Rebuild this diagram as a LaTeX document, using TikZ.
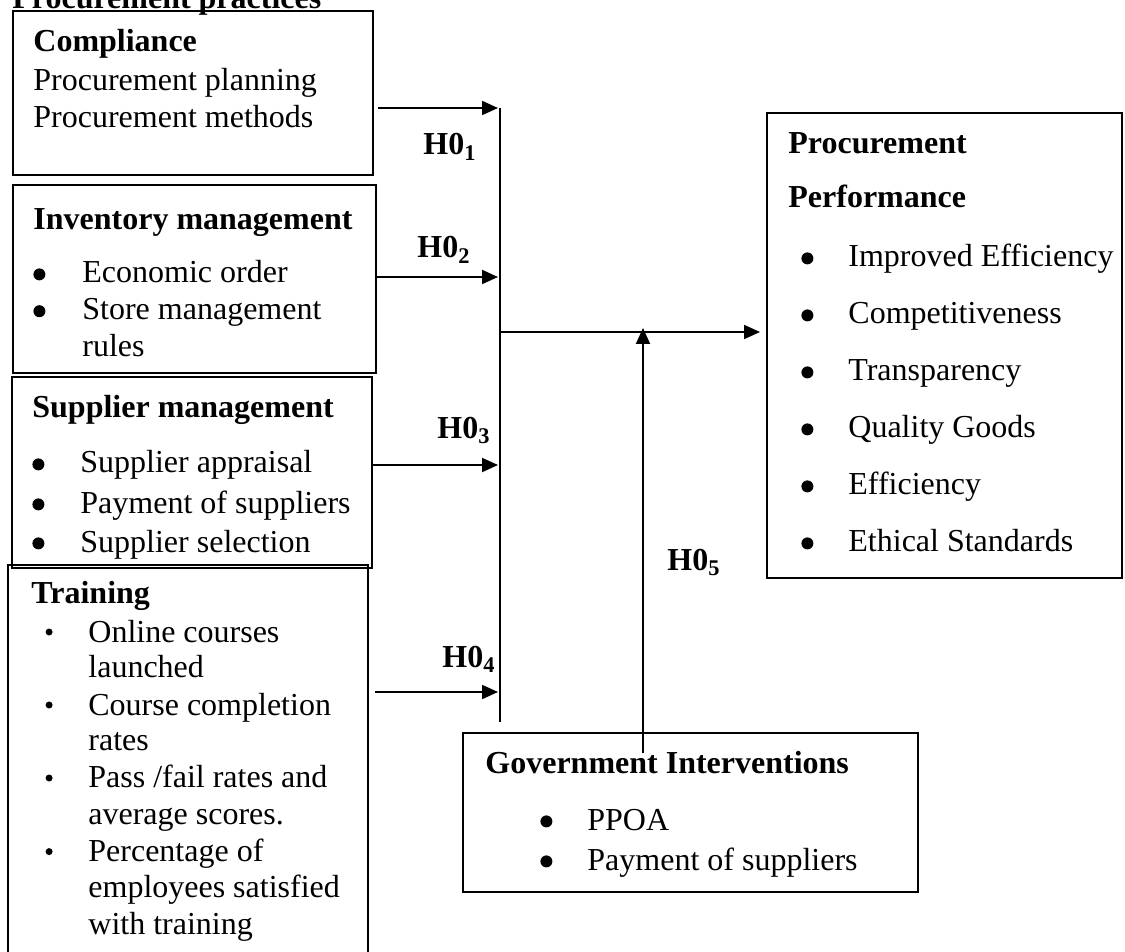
\documentclass[tikz,border=0pt]{standalone}
\usepackage{fontspec}
\setmainfont{Liberation Serif}
\usetikzlibrary{arrows.meta}

\newcommand{\bul}{\tikz[baseline=-4.3pt]\fill (0,0) circle (3pt);}
\newcommand{\smallbul}{\tikz[baseline=-5pt]\fill (0,0) circle (1.75pt);}

\begin{document}
\begin{tikzpicture}[x=0.5pt, y=-0.5pt,
    box/.style={draw, line width=1pt, inner sep=0pt, outer sep=0pt, anchor=north west},
    txt/.style={anchor=base west, inner sep=0pt, font=\fontsize{16}{18.4}\selectfont},
    hyp/.style={anchor=base west, inner sep=0pt, font=\fontsize{16}{18.4}\selectfont\bfseries},
    arr/.style={line width=1pt, -{Triangle[length=8pt,width=7pt]}}]
  \useasboundingbox (0,0) rectangle (1125,952);

  % Title
  \node[hyp] (title) at (12,9) {Procurement practices};

  % Boxes
  \node[box, minimum width=180pt, minimum height=82pt] (comp) at (13,11) {};
  \node[box, minimum width=181.5pt, minimum height=94pt] (inv) at (13,185) {};
  \node[box, minimum width=180pt, minimum height=95.5pt] (sup) at (12,377) {};
  \node[box, minimum width=180pt, minimum height=200pt] (train) at (8,565) {};
  \node[box, minimum width=177.5pt, minimum height=232.5pt] (perf) at (767,113) {};
  \node[box, minimum width=227.5pt, minimum height=79.5pt] (gov) at (463,733) {};

  % Box texts
  \node[txt] (comptxt) at (33,52) {\begin{tabular}[t]{@{}l@{}}
      \textbf{Compliance}\\[1.1pt]
      Procurement planning\\
      Procurement methods
    \end{tabular}};
  \node[txt] (invtxt) at (33,230) {\begin{tabular}[t]{@{}p{24.5pt}@{}l@{}}
      \multicolumn{2}{@{}l@{}}{\textbf{Inventory management}}\\[8.1pt]
      \bul & Economic order\\
      \bul & Store management\\
           & rules
    \end{tabular}};
  \node[txt] (suptxt) at (32,417) {\begin{tabular}[t]{@{}p{24pt}@{}l@{}}
      \multicolumn{2}{@{}l@{}}{\textbf{Supplier management}}\\[9.6pt]
      \bul & Supplier appraisal\\[1.6pt]
      \bul & Payment of suppliers\\[1.1pt]
      \bul & Supplier selection
    \end{tabular}};
  \node[txt] (traintxt) at (31,603) {\begin{tabular}[t]{@{}p{28.5pt}@{}l@{}}
      \multicolumn{2}{@{}l@{}}{\textbf{Training}}\\[1.1pt]
      \hspace*{7.1pt}\smallbul & Online courses\\[-0.9pt]
                               & launched\\[0.6pt]
      \hspace*{7.1pt}\smallbul & Course completion\\[-0.9pt]
                               & rates\\[0.6pt]
      \hspace*{7.1pt}\smallbul & Pass /fail rates and\\
                               & average scores.\\
      \hspace*{7.1pt}\smallbul & Percentage of\\[-0.4pt]
                               & employees satisfied\\
                               & with training
    \end{tabular}};
  \node[txt] (perftxt) at (788,154) {\begin{tabular}[t]{@{}p{30pt}@{}l@{}}
      \multicolumn{2}{@{}l@{}}{\textbf{Procurement}}\\[8.6pt]
      \multicolumn{2}{@{}l@{}}{\textbf{Performance}}\\[11.1pt]
      \hspace*{6.5pt}\bul & Improved Efficiency\\[10.1pt]
      \hspace*{6.5pt}\bul & Competitiveness\\[10.1pt]
      \hspace*{6.5pt}\bul & Transparency\\[10.1pt]
      \hspace*{6.5pt}\bul & Quality Goods\\[10.1pt]
      \hspace*{6.5pt}\bul & Efficiency\\[10.1pt]
      \hspace*{6.5pt}\bul & Ethical Standards
    \end{tabular}};
  \node[txt] (govtxt) at (485,773) {\begin{tabular}[t]{@{}p{51pt}@{}l@{}}
      \multicolumn{2}{@{}l@{}}{\textbf{Government Interventions}}\\[10.1pt]
      \hspace*{27.5pt}\bul & PPOA\\[1.6pt]
      \hspace*{27.5pt}\bul & Payment of suppliers
    \end{tabular}};

  % Hypotheses
  \node[hyp] (h01) at (423,155) {H0\textsubscript{1}};
  \node[hyp] (h02) at (417,258) {H0\textsubscript{2}};
  \node[hyp] (h03) at (437,438) {H0\textsubscript{3}};
  \node[hyp] (h04) at (442,667) {H0\textsubscript{4}};
  \node[hyp] (h05) at (667,570) {H0\textsubscript{5}};

  % Bus line and joints
  \coordinate (bustop) at (500,108);
  \coordinate (busbot) at (500,722);
  \coordinate (h2) at (500,277);
  \coordinate (h3) at (500,465);
  \coordinate (h4) at (500,692);
  \coordinate (busout) at (500,332);
  \coordinate (join) at (643,332);
  \coordinate (modfoot) at (643,753);

  % Arrows
  \draw[line width=1pt] (bustop) -- (busbot);
  \draw[arr, shorten <=2.5pt, shorten >=1pt] (comp.east |- bustop) -- (bustop);
  \draw[arr, shorten <=0.5pt, shorten >=1pt] (inv.east |- h2) -- (h2);
  \draw[arr, shorten >=1pt] (sup.east |- h3) -- (h3);
  \draw[arr, shorten <=3.5pt, shorten >=1pt] (train.east |- h4) -- (h4);
  \draw[arr, shorten >=3.5pt] (busout) -- (perf.west |- busout);
  \draw[arr, shorten >=-2pt] (modfoot) -- (join);
\end{tikzpicture}
\end{document}
